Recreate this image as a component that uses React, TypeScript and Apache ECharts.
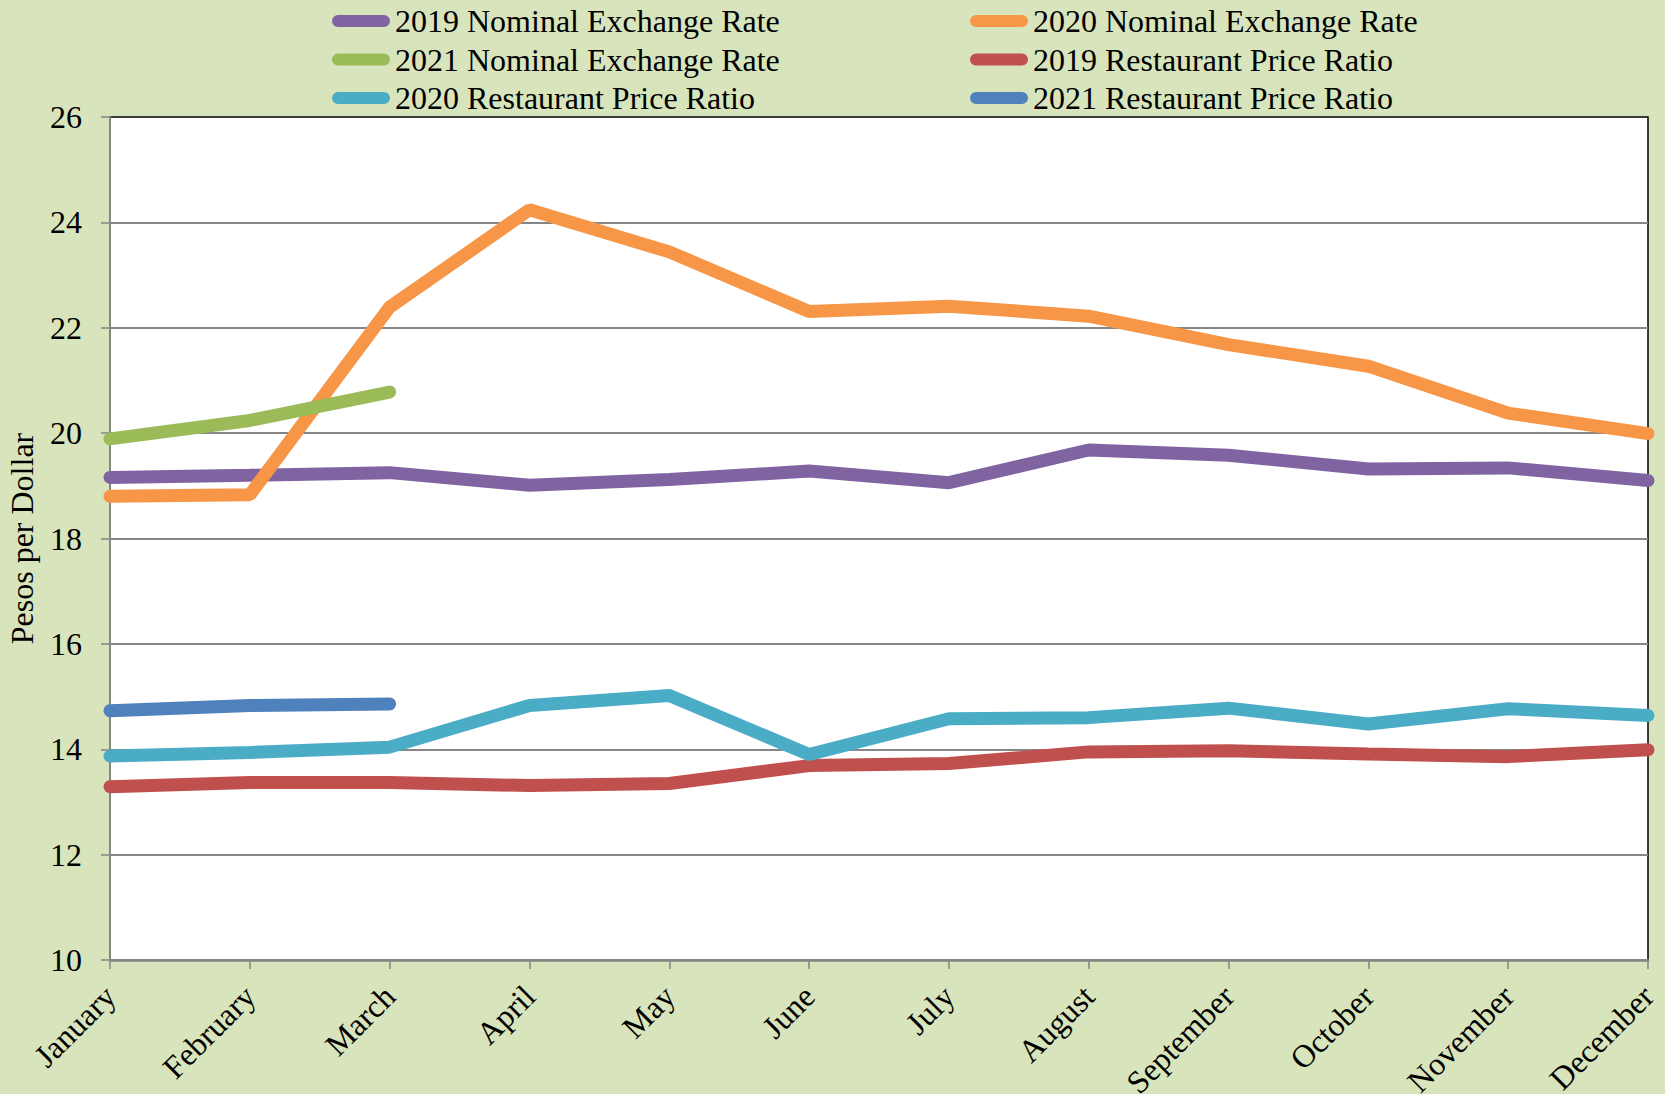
import React, { useEffect, useRef } from "react";
import * as echarts from "echarts";

const months = ["January", "February", "March", "April", "May", "June", "July", "August", "September", "October", "November", "December"];

const ner2019 = [19.16, 19.2, 19.25, 19.01, 19.12, 19.28, 19.06, 19.68, 19.58, 19.32, 19.34, 19.1];
const ner2020 = [18.8, 18.83, 22.39, 24.24, 23.44, 22.31, 22.41, 22.22, 21.68, 21.27, 20.38, 19.99];
const ner2021 = [19.89, 20.24, 20.78];
const rpr2019 = [13.29, 13.37, 13.37, 13.31, 13.35, 13.69, 13.73, 13.95, 13.97, 13.91, 13.86, 13.99];
const rpr2020 = [13.87, 13.94, 14.04, 14.83, 15.02, 13.9, 14.58, 14.6, 14.78, 14.48, 14.77, 14.64];
const rpr2021 = [14.73, 14.83, 14.86];

const seriesNames = [
  "2019 Nominal Exchange Rate",
  "2020 Nominal Exchange Rate",
  "2021 Nominal Exchange Rate",
  "2019 Restaurant Price Ratio",
  "2020 Restaurant Price Ratio",
  "2021 Restaurant Price Ratio",
];
const seriesData = [ner2019, ner2020, ner2021, rpr2019, rpr2020, rpr2021];
const seriesColors = ["#8064A2", "#F79646", "#9BBB59", "#C0504D", "#4BACC6", "#4F81BD"];

const FONT = "'Liberation Serif', 'Times New Roman', serif";
const CAPSULE = "path://M6,0 L52,0 A6,6 0 0 1 52,12 L6,12 A6,6 0 0 1 6,0 Z";

export default function App() {
  const ref = useRef<HTMLDivElement>(null);
  useEffect(() => {
    if (!ref.current) return;
    const chart = echarts.init(ref.current, null, { renderer: "svg" });
    const legendPos = [
      { left: 332, top: 5 },
      { left: 970, top: 5 },
      { left: 332, top: 43.5 },
      { left: 970, top: 43.5 },
      { left: 332, top: 82 },
      { left: 970, top: 82 },
    ];
    const legends = seriesNames.map((n, i) => ({
      data: [n],
      left: legendPos[i].left,
      top: legendPos[i].top,
      icon: CAPSULE,
      itemWidth: 58,
      itemHeight: 13,
      padding: 0,
      textStyle: { fontFamily: FONT, fontSize: 32, color: "#000", lineHeight: 32 },
    }));
    chart.setOption({
      animation: false,
      backgroundColor: "#D8E4BC",
      legend: legends,
      grid: {
        left: 110,
        right: 17,
        top: 117,
        bottom: 134,
        outerBoundsMode: "none",
        containLabel: false,
        show: true,
        backgroundColor: "#FFFFFF",
        borderColor: "#000000",
        borderWidth: 1.5,
      },
      xAxis: {
        type: "category",
        data: months,
        boundaryGap: false,
        axisLine: { show: true, lineStyle: { color: "#868686", width: 2.5 } },
        axisTick: { show: true, length: 9, lineStyle: { color: "#868686", width: 1.5 } },
        axisLabel: { rotate: 45, margin: 31, fontFamily: FONT, fontSize: 32, color: "#000", interval: 0 },
        splitLine: { show: false },
      },
      yAxis: {
        type: "value",
        min: 10,
        max: 26,
        interval: 2,
        name: "Pesos per Dollar",
        nameLocation: "middle",
        nameGap: 72,
        nameTextStyle: { fontFamily: FONT, fontSize: 32, color: "#000" },
        axisLine: { show: true, lineStyle: { color: "#868686", width: 2 } },
        axisTick: { show: true, length: 9, lineStyle: { color: "#868686", width: 1.5 } },
        axisLabel: { margin: 28, fontFamily: FONT, fontSize: 32, color: "#000" },
        splitLine: { show: true, showMaxLine: false, lineStyle: { color: "#868686", width: 2 } },
      },
      series: seriesNames.map((n, i) => ({
        name: n,
        type: "line",
        data: seriesData[i],
        symbol: "none",
        showSymbol: false,
        color: seriesColors[i],
        lineStyle: { width: 13, color: seriesColors[i], cap: "round" },
        itemStyle: { color: seriesColors[i] },
        clip: true,
      })),
    });
    return () => chart.dispose();
  }, []);
  return (
    <div
      ref={ref}
      style={{ position: "fixed", left: 0, top: 0, width: 1665, height: 1094 }}
    />
  );
}
